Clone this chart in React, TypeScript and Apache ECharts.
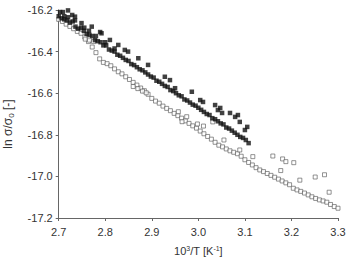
import React, { useEffect, useRef } from "react";
import * as echarts from "echarts";

// Filled squares: dense band
const filledLineX = [2.700,2.706,2.712,2.718,2.724,2.730,2.736,2.742,2.748,2.754,2.760,2.766,2.772,2.778,2.784,2.790,2.796,2.802,2.808,2.814,2.820,2.826,2.832,2.838,2.844,2.850,2.856,2.862,2.868,2.874,2.880,2.886,2.892,2.898,2.904,2.910,2.916,2.922,2.928,2.934,2.940,2.946,2.952,2.958,2.964,2.970,2.976,2.982,2.988,2.994,3.000,3.006,3.012,3.018,3.024,3.030,3.036,3.042,3.048,3.054,3.060,3.066,3.072,3.078,3.084,3.090,3.096,3.102,3.108,
  2.703,2.712,2.720,2.735,2.755,2.765,2.780,2.800,2.820];
const filledLineY = [-16.23,-16.24,-16.245,-16.25,-16.26,-16.255,-16.28,-16.29,-16.285,-16.30,-16.315,-16.32,-16.325,-16.345,-16.35,-16.355,-16.37,-16.37,-16.39,-16.395,-16.40,-16.415,-16.42,-16.43,-16.44,-16.445,-16.46,-16.465,-16.475,-16.485,-16.49,-16.50,-16.51,-16.52,-16.525,-16.54,-16.545,-16.555,-16.565,-16.57,-16.585,-16.59,-16.60,-16.61,-16.615,-16.63,-16.635,-16.645,-16.655,-16.66,-16.67,-16.68,-16.69,-16.70,-16.705,-16.72,-16.725,-16.735,-16.745,-16.75,-16.765,-16.77,-16.78,-16.79,-16.80,-16.81,-16.815,-16.825,-16.84,
  -16.21,-16.23,-16.235,-16.25,-16.285,-16.30,-16.325,-16.355,-16.385];
// Filled squares: scattered above the band
const filledScatterX = [2.709,2.720,2.729,2.735,2.749,2.771,2.789,2.792,2.810,2.828,2.842,2.849,2.871,2.892,2.928,2.939,2.950,2.986,3.004,3.010,3.036,3.042,3.051,3.047,3.068,3.079,3.089,3.085,3.100,3.105];
const filledScatterY = [-16.21,-16.202,-16.224,-16.232,-16.263,-16.28,-16.306,-16.312,-16.344,-16.368,-16.392,-16.40,-16.432,-16.464,-16.521,-16.537,-16.576,-16.593,-16.633,-16.642,-16.657,-16.681,-16.695,-16.671,-16.695,-16.714,-16.738,-16.705,-16.777,-16.762];

// Open squares: main line
const openLineX = [2.700,2.708,2.716,2.724,2.732,2.740,2.748,2.756,2.764,2.772,2.780,2.788,2.796,2.804,2.812,2.820,2.828,2.836,2.844,2.852,2.860,2.868,2.876,2.884,2.892,2.900,2.908,2.916,2.924,2.932,2.940,2.948,2.956,2.964,2.972,2.980,2.988,2.996,3.004,3.012,3.020,3.028,3.036,3.044,3.052,3.060,3.068,3.076,3.084,3.092,3.100,3.108,3.116,3.124,3.132,3.140,3.148,3.156,3.164,3.172,3.180,3.188,3.196,3.204,3.212,3.220,3.228,3.236,3.244,3.252,3.260,3.268,3.276,3.284,3.292,3.300];
const openLineY = [-16.245,-16.255,-16.268,-16.279,-16.290,-16.303,-16.312,-16.330,-16.352,-16.378,-16.405,-16.435,-16.452,-16.458,-16.468,-16.483,-16.497,-16.507,-16.521,-16.534,-16.548,-16.561,-16.575,-16.588,-16.605,-16.625,-16.638,-16.648,-16.662,-16.673,-16.684,-16.697,-16.708,-16.720,-16.733,-16.745,-16.757,-16.768,-16.782,-16.795,-16.808,-16.821,-16.836,-16.850,-16.858,-16.868,-16.877,-16.884,-16.891,-16.903,-16.920,-16.933,-16.945,-16.958,-16.969,-16.977,-16.986,-16.995,-17.004,-17.013,-17.022,-17.031,-17.040,-17.057,-17.065,-17.072,-17.080,-17.089,-17.098,-17.106,-17.113,-17.118,-17.124,-17.135,-17.145,-17.153];
// Open squares: scattered above the line
const openScatterX = [2.757,2.766,2.775,2.860,2.870,2.880,2.888,2.957,2.975,2.965,2.998,3.011,3.031,3.055,3.089,3.117,3.160,3.181,3.188,3.205,3.177,3.218,3.251,3.271,3.281,3.303];
const openScatterY = [-16.340,-16.345,-16.352,-16.568,-16.578,-16.590,-16.598,-16.689,-16.713,-16.737,-16.748,-16.758,-16.738,-16.825,-16.873,-16.905,-16.902,-16.916,-16.929,-16.934,-16.972,-17.018,-17.003,-16.992,-17.076,-17.098];

const xTicks = { min: 2.7, max: 3.3, step: 0.1 };
const yTicks = { min: -17.2, max: -16.2, step: 0.2 };
const xTitle = "10{sup|3}/T [K{sup|-1}]";
const yTitle = "ln σ/σ{sub|0} [-]";

const zip = (xs: number[], ys: number[]) => xs.map((x, i) => [x, ys[i]]);

export default function App() {
  const ref = useRef<HTMLDivElement>(null);
  useEffect(() => {
    if (!ref.current) return;
    const chart = echarts.init(ref.current, null, { renderer: "svg" });
    const font = "Liberation Sans, Arial, sans-serif";
    const axisColor = "#666";
    const textColor = "#333";
    chart.setOption({
      animation: false,
      backgroundColor: "#fff",
      textStyle: { fontFamily: font },
      grid: { left: 58.7, right: 13, top: 10, bottom: 44, containLabel: false },
      graphic: [
        {
          type: "text",
          x: 8,
          y: 124,
          rotation: Math.PI / 2,
          style: {
            text: yTitle,
            fill: textColor,
            fontSize: 12,
            fontFamily: font,
            align: "center",
            verticalAlign: "middle",
            rich: { sub: { fontSize: 8, fill: textColor, fontFamily: font, verticalAlign: "bottom", padding: [6, 0, 0, 0] } },
          },
        },
      ],
      xAxis: {
        type: "value",
        min: xTicks.min,
        max: xTicks.max,
        interval: xTicks.step,
        splitLine: { show: false },
        axisLine: { onZero: false, lineStyle: { color: axisColor, width: 1 } },
        axisTick: { show: true, length: 3, inside: false, lineStyle: { color: axisColor } },
        axisLabel: { color: textColor, fontSize: 11, fontFamily: font, margin: 8, formatter: (v: number) => v.toFixed(1) },
        name: xTitle,
        nameLocation: "middle",
        nameGap: 27,
        nameTextStyle: {
          color: textColor, fontSize: 11, fontFamily: font,
          rich: { sup: { fontSize: 7, color: textColor, fontFamily: font, verticalAlign: "top", padding: [0, 0, 5, 0] } },
        },
      },
      yAxis: {
        type: "value",
        min: yTicks.min,
        max: yTicks.max,
        interval: yTicks.step,
        splitLine: { show: false },
        axisLine: { onZero: false, lineStyle: { color: axisColor, width: 1 } },
        axisTick: { show: true, length: 3, inside: false, lineStyle: { color: axisColor } },
        axisLabel: { color: textColor, fontSize: 11, fontFamily: font, margin: 6, formatter: (v: number) => v.toFixed(1) },
      },
      series: [
        {
          type: "scatter",
          symbol: "rect",
          symbolSize: 4,
          data: zip(openLineX, openLineY).concat(zip(openScatterX, openScatterY)),
          itemStyle: { color: "#fff", borderColor: "#555", borderWidth: 0.8 },
        },
        {
          type: "scatter",
          symbol: "rect",
          symbolSize: 4.5,
          data: zip(filledLineX, filledLineY).concat(zip(filledScatterX, filledScatterY)),
          itemStyle: { color: "#111" },
        },
      ],
    });
    return () => chart.dispose();
  }, []);
  return <div ref={ref} style={{ width: 351, height: 262, position: "absolute", left: 0, top: 0 }} />;
}
